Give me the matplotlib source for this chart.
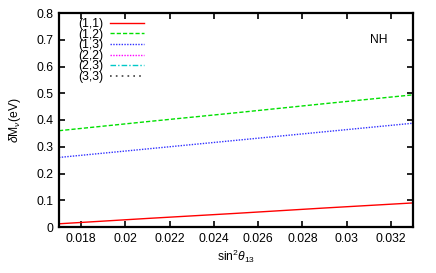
import matplotlib
matplotlib.use("Agg")
import matplotlib.pyplot as plt

plt.rcParams['font.family'] = ['Liberation Sans', 'DejaVu Sans']
plt.rcParams['mathtext.fontset'] = 'custom'
plt.rcParams['mathtext.rm'] = 'Liberation Sans'
plt.rcParams['mathtext.it'] = 'Liberation Sans:italic'

# data
x_vals = [0.017, 0.021, 0.025, 0.029, 0.033]
y_11 = [0.012, 0.032, 0.051, 0.071, 0.090]
y_12 = [0.360, 0.394, 0.427, 0.461, 0.494]
y_13 = [0.260, 0.292, 0.324, 0.356, 0.388]
y_22 = []
y_23 = []
y_33 = []
labels = ["(1,1)", "(1,2)", "(1,3)", "(2,2)", "(2,3)", "(3,3)"]
xticks = [0.018, 0.020, 0.022, 0.024, 0.026, 0.028, 0.030, 0.032]
xtick_labels = ["0.018", "0.02", "0.022", "0.024", "0.026", "0.028", "0.03", "0.032"]
yticks = [0, 0.1, 0.2, 0.3, 0.4, 0.5, 0.6, 0.7, 0.8]
ytick_labels = ["0", "0.1", "0.2", "0.3", "0.4", "0.5", "0.6", "0.7", "0.8"]

fig = plt.figure(figsize=(4.36, 2.73), dpi=100)
ax = fig.add_axes([59/436, 1-227/273, (413-59)/436, (227-13)/273])

series = [y_11, y_12, y_13, y_22, y_23, y_33]
styles = [
    dict(color='#ff0000', ls='-', lw=1.0),
    dict(color='#00e000', ls=(0, (3, 1.5)), lw=1.0),
    dict(color='#3030ff', ls=(0, (1, 1)), lw=1.0),
    dict(color='#ff00ff', ls=(0, (1, 1)), lw=1.0),
    dict(color='#00c8c8', ls=(0, (4, 1.5, 1, 1.5)), lw=1.0),
    dict(color='#404040', ls=(0, (1, 2.5)), lw=1.2),
]
handles = []
for ys, st, lab in zip(series, styles, labels):
    if ys:
        h, = ax.plot(x_vals, ys, label=lab, **st)
    else:
        h, = ax.plot([], [], label=lab, **st)
    handles.append(h)

ax.set_xlim(0.017, 0.033)
ax.set_ylim(0, 0.8)
ax.set_xticks(xticks)
ax.set_xticklabels(xtick_labels)
ax.set_yticks(yticks)
ax.set_yticklabels(ytick_labels)
ax.tick_params(direction='in', length=4, width=1.2, top=True, right=True, labelsize=8.7, pad=4)
for sp in ax.spines.values():
    sp.set_linewidth(1.6)

ax.set_xlabel(r"sin$^2\theta_{13}$", fontsize=8.7, labelpad=2)
ax.set_ylabel(r"$\delta$M$_\nu$(eV)", fontsize=8.7, labelpad=10)

leg = ax.legend(handles=handles, loc='upper left', bbox_to_anchor=(0.035, 1.01),
                frameon=False, fontsize=8.7, handlelength=2.8, handletextpad=0.55,
                labelspacing=-0.12, markerfirst=False, borderaxespad=0.2)

ax.text(0.902, 0.874, "NH", transform=ax.transAxes, fontsize=8.7, ha='center', va='center')

fig.savefig("out.png", dpi=100)
